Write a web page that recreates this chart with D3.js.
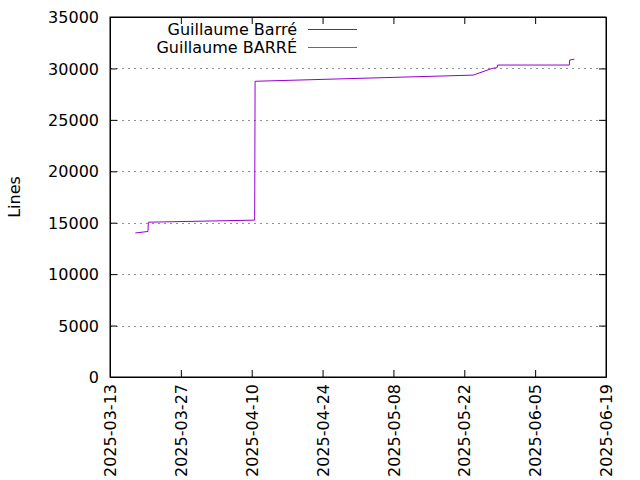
<!DOCTYPE html>
<html><head><meta charset="utf-8">
<script src="https://cdn.jsdelivr.net/npm/d3@7"></script>
<style>body{margin:0;background:#fff}svg{display:block}text{font-family:"DejaVu Sans",sans-serif;}</style>
</head><body>
<svg id="c" width="640" height="480"></svg>
<script>
const seriesNames = ["Guillaume Barré", "Guillaume BARRÉ"];
const seriesColors = ["#9400d3", "#009e73"];
const barreDates = ["2025-03-18T00:00","2025-03-20T12:00","2025-03-20T14:00","2025-04-10T14:00","2025-04-10T16:00","2025-05-23T18:00","2025-05-27T12:00","2025-05-28T12:00","2025-05-28T14:00","2025-06-11T18:00","2025-06-11T20:00","2025-06-12T18:00"];
const barreLines = [14000,14150,15050,15250,28750,29350,30000,30080,30330,30330,30820,30900];
const barreUpperDates = [];
const barreUpperLines = [];
const xTickLabels = ["2025-03-13","2025-03-27","2025-04-10","2025-04-24","2025-05-08","2025-05-22","2025-06-05","2025-06-19"];
const yTicks = [0,5000,10000,15000,20000,25000,30000,35000];

const parse = d3.isoParse;
const svg = d3.select("#c");
const L=110,R=606,T=17,B=377;
const x = d3.scaleUtc().domain([parse("2025-03-13T00:00"), parse("2025-06-19T00:00")]).range([L,R]);
const y = d3.scaleLinear().domain([0,35000]).range([B,T]);
const fs = 16;

// grid
svg.append("g").selectAll("line").data(yTicks.filter(v=>v>0&&v<35000)).join("line")
  .attr("x1",L).attr("x2",R).attr("y1",d=>Math.round(y(d))+0.5).attr("y2",d=>Math.round(y(d))+0.5)
  .attr("stroke","#909090").attr("stroke-width",1).attr("stroke-dasharray","2,4").attr("shape-rendering","crispEdges");

// axes
const xt = xTickLabels.map(s=>parse(s+"T00:00"));
const gl = svg.append("g").attr("transform",`translate(${L},0)`)
  .call(d3.axisLeft(y).tickValues(yTicks).tickSizeInner(-7).tickSizeOuter(0).tickPadding(11).tickFormat(d3.format("d")));
const gr = svg.append("g").attr("transform",`translate(${R},0)`)
  .call(d3.axisRight(y).tickValues(yTicks).tickSizeInner(-7).tickSizeOuter(0).tickFormat(""));
const gb = svg.append("g").attr("transform",`translate(0,${B})`)
  .call(d3.axisBottom(x).tickValues(xt).tickSizeInner(-7).tickSizeOuter(0).tickFormat((d,i)=>xTickLabels[i]));
const gt = svg.append("g").attr("transform",`translate(0,${T})`)
  .call(d3.axisTop(x).tickValues(xt).tickSizeInner(-7).tickSizeOuter(0).tickFormat(""));
[gl,gr,gb,gt].forEach(g=>{g.select(".domain").attr("stroke","#000");g.selectAll(".tick line").attr("stroke","#000");g.selectAll("text").attr("font-size",fs).attr("fill","#000").attr("font-family","DejaVu Sans, sans-serif");});
gl.selectAll(".tick text").attr("dy","0.35em");
gb.selectAll(".tick text").attr("transform","rotate(-90)").attr("text-anchor","end")
  .attr("x",-7).attr("y",0).attr("dy","0.35em");

// frame
svg.append("rect").attr("x",L).attr("y",T).attr("width",R-L).attr("height",B-T).attr("fill","none").attr("stroke","#000");

// y label
svg.append("text").attr("transform",`translate(20,${(T+B)/2}) rotate(-90)`).attr("text-anchor","middle")
  .attr("font-size",fs).text("Lines");

// lines
const line = d3.line().x(d=>x(d[0])).y(d=>y(d[1]));
const s1 = barreDates.map((d,i)=>[parse(d),barreLines[i]]);
const s2 = barreUpperDates.map((d,i)=>[parse(d),barreUpperLines[i]]);
[s1,s2].forEach((s,i)=>{ if(s.length) svg.append("path").datum(s).attr("d",line).attr("fill","none").attr("stroke",seriesColors[i]).attr("stroke-width",1);});

// legend
seriesNames.forEach((n,i)=>{
  const yy = 29 + i*18;
  svg.append("text").attr("x",297).attr("y",yy).attr("dy","0.35em").attr("text-anchor","end").attr("font-size",fs).text(n);
  svg.append("line").attr("x1",308).attr("x2",357).attr("y1",yy+0.5).attr("y2",yy+0.5).attr("stroke",seriesColors[i]).attr("stroke-width",1).attr("shape-rendering","crispEdges");
});
</script>
</body></html>
